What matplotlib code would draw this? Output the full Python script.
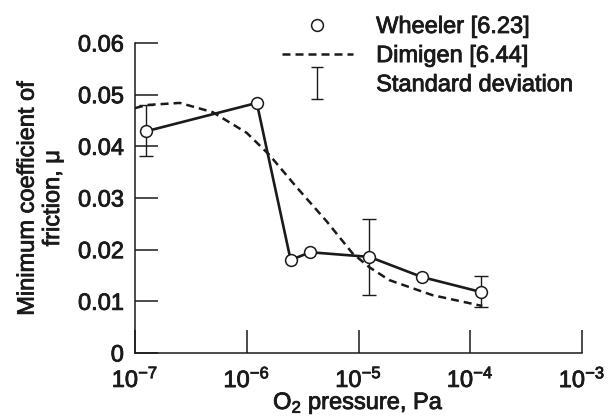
import numpy as np
import matplotlib.pyplot as plt
import matplotlib.patheffects as pe
from matplotlib.lines import Line2D
from matplotlib.path import Path

plt.rcParams['font.family'] = ['Liberation Sans', 'DejaVu Sans']
plt.rcParams['mathtext.default'] = 'regular'

# Wheeler [6.23] measurements
wheeler_p = [1.25e-7, 1.23e-6, 2.47e-6, 3.7e-6, 1.25e-5, 3.7e-5, 1.25e-4]
wheeler_mu = [0.0429, 0.0484, 0.0180, 0.0195, 0.0186, 0.0147, 0.0118]

# standard deviation bars (absolute low / high)
err_p = [1.25e-7, 1.25e-5, 1.25e-4]
err_mu = [0.0429, 0.0186, 0.0118]
err_low = [0.0381, 0.0112, 0.0089]
err_high = [0.0480, 0.0259, 0.0149]

# Dimigen [6.44] curve
dimigen_p = [1.0e-7, 1.28e-7, 2.52e-7, 4.97e-7, 1.0e-6, 1.6e-6, 2.79e-6,
             5.18e-6, 8.83e-6, 1.25e-5, 1.89e-5, 4.58e-5, 1.28e-4]
dimigen_mu = [0.0474, 0.0480, 0.0484, 0.0466, 0.0426, 0.0383, 0.0321,
              0.0255, 0.0193, 0.0166, 0.0141, 0.0112, 0.0091]

ink = '#1a1a1a'
thick = [pe.withStroke(linewidth=0.6, foreground=ink)]

fig = plt.figure(figsize=(6.12, 4.17), dpi=100)
ax = fig.add_axes([0.2206, 0.1535, 0.7304, 0.7434])

ax.plot(dimigen_p, dimigen_mu, color=ink, lw=1.8, dashes=(3.2, 2.0), zorder=2)
lo = np.array(err_mu) - np.array(err_low)
hi = np.array(err_high) - np.array(err_mu)
ax.errorbar(err_p, err_mu, yerr=[lo, hi], fmt='none', ecolor=ink,
            elinewidth=1.0, capsize=5, capthick=1.0, zorder=3)
ax.plot(wheeler_p, wheeler_mu, color=ink, lw=1.9, marker='o', ms=8.5,
        mfc='white', mec=ink, mew=1.1, zorder=4)

ax.set_xscale('log')
ax.set_xlim(1e-7, 1e-3)
ax.set_ylim(0, 0.06)
ax.set_xticks([1e-7, 1e-6, 1e-5, 1e-4, 1e-3])
ax.set_xticklabels(['10$^{-7}$', '10$^{-6}$', '10$^{-5}$', '10$^{-4}$', '10$^{-3}$'])
ax.minorticks_off()
ax.set_yticks([0, 0.01, 0.02, 0.03, 0.04, 0.05, 0.06])
ax.set_yticklabels(['0', '0.01', '0.02', '0.03', '0.04', '0.05', '0.06'])

for s in ['top', 'right']:
    ax.spines[s].set_visible(False)
for s in ['left', 'bottom']:
    ax.spines[s].set_linewidth(1.1)
    ax.spines[s].set_color(ink)
ax.tick_params(direction='in', length=16.5, width=1.1, color=ink,
               labelsize=17)
ax.tick_params(axis='x', pad=10)
ax.tick_params(axis='y', pad=8)

ax.set_xlabel('O$_2$ pressure, Pa', fontsize=17, labelpad=-1.5)
ax.set_ylabel('Minimum coefficient of\nfriction, \u03bc', fontsize=17,
              labelpad=10, linespacing=1.2)

# I-beam marker for the standard deviation legend entry
ibeam = Path([(-0.35, -1), (0.35, -1), (0, -1), (0, 1), (-0.35, 1), (0.35, 1)],
             [Path.MOVETO, Path.LINETO, Path.MOVETO, Path.LINETO,
              Path.MOVETO, Path.LINETO])
h_wheeler = Line2D([], [], ls='none', marker='o', ms=8.5, mfc='white',
                   mec=ink, mew=1.1)
h_dimigen = Line2D([], [], color=ink, lw=1.8, dashes=(3.2, 2.0))
h_std = Line2D([], [], ls='none', marker=ibeam, ms=23, mew=1.0,
               mec=ink, mfc='none')
leg = fig.legend([h_wheeler, h_dimigen, h_std],
                 ['Wheeler [6.23]', 'Dimigen [6.44]', 'Standard deviation'],
                 loc='upper left', bbox_to_anchor=(0.441, 0.99), frameon=False,
                 fontsize=17, borderpad=0, handlelength=3.0, handletextpad=1.0,
                 labelspacing=0.3)

texts = ax.get_xticklabels() + ax.get_yticklabels() + leg.get_texts()
texts += [ax.xaxis.label, ax.yaxis.label]
for t in texts:
    t.set_color(ink)
    t.set_path_effects(thick)

fig.savefig('out.png', dpi=100)
